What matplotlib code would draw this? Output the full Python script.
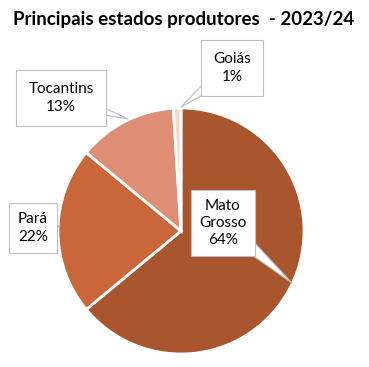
import matplotlib
matplotlib.use('Agg')
import matplotlib.pyplot as plt

# dados
estados = ['Mato\nGrosso', 'Pará', 'Tocantins', 'Goiás']
valores = [64, 22, 13, 1]
cores = ['#A9562F', '#C9673B', '#DF8E76', '#F3DCCF']

W, H = 369, 367
fig = plt.figure(figsize=(W / 100, H / 100), dpi=100)
ax = fig.add_axes([0, 0, 1, 1])

cx, cy, r = 181, H - 231, 123
wedges, _ = ax.pie(valores, colors=cores, startangle=90, counterclock=False,
                   center=(cx, cy), radius=r, frame=True,
                   wedgeprops=dict(edgecolor='white', linewidth=2))
ax.set_xlim(0, W)
ax.set_ylim(0, H)
ax.set_aspect('equal')
ax.axis('off')

ax.text(W / 2 - 1, H - 20, 'Principais estados produtores  - 2023/24',
        ha='center', va='center', fontsize=13.5, fontweight='bold', family='Lato')

# posições das caixas (centro do texto), pontas das setas e margens
caixas = [(223, 223), (33, 228), (61, 98), (232, 68)]
pontas = [(292, 283), (60, 226), (128, 119), (181, 107)]
margens = [0.55, 0.6, 0.8, 0.8]

for nome, v, (tx, ty), (px, py), m in zip(estados, valores, caixas, pontas, margens):
    # ponteiro do balão
    ax.annotate('', xy=(px, H - py), xytext=(tx, H - ty),
                arrowprops=dict(arrowstyle='wedge,tail_width=1.4', fc='white',
                                ec='#BFBFBF', lw=0.8, shrinkA=0, shrinkB=0),
                zorder=3)
    ax.text(tx, H - ty, f'{nome}\n{v}%', ha='center', va='center',
            fontsize=11, family='Lato', linespacing=1.3, zorder=4,
            bbox=dict(boxstyle=f'square,pad={m}', fc='white', ec='#BFBFBF', lw=0.8))

fig.savefig('out.png', dpi=100)
